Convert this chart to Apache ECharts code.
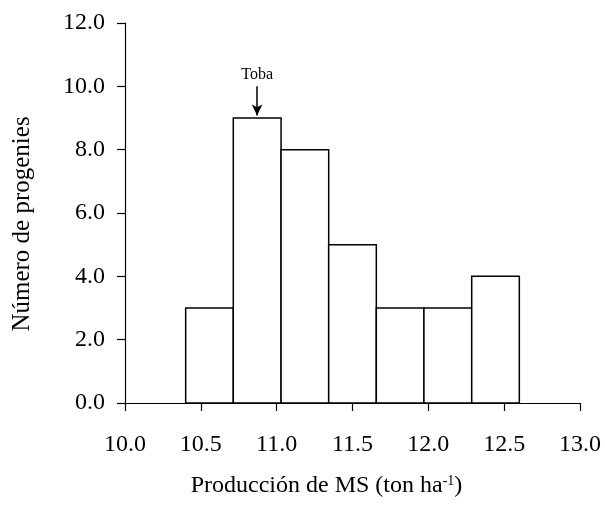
<!DOCTYPE html>
<html>
<head>
<meta charset="utf-8">
<script src="https://cdn.jsdelivr.net/npm/echarts@6/dist/echarts.min.js"></script>
<style>
  html, body { margin: 0; padding: 0; background: #fff; }
  #chart { width: 605px; height: 510px; }
</style>
</head>
<body>
<div id="chart"></div>
<script>
// bin edges (7 equal classes from 10.4 to 12.6) and counts per class
var binEdges = [10.4, 10.714, 11.029, 11.343, 11.657, 11.971, 12.286, 12.6];
var counts = [3, 9, 8, 5, 3, 3, 4];
// marked genotype
var markName = 'Toba';
var markX = 10.871;
var markFrom = 10.0;
var markTo = 9.08;

var FONT = "'Liberation Serif', 'Times New Roman', serif";

var chart = echarts.init(document.getElementById('chart'));

var histData = counts.map(function (c, i) {
  return [binEdges[i], binEdges[i + 1], c];
});

var options = {
  backgroundColor: '#fff',
  animation: false,
  textStyle: { fontFamily: FONT, color: '#000' },
  grid: { left: 125, right: 25, top: 23, bottom: 107 },
  xAxis: {
    type: 'value',
    min: 10,
    max: 13,
    interval: 0.5,
    name: 'Producción de MS (ton ha{sup|-1})',
    nameLocation: 'middle',
    nameGap: 71,
    nameTextStyle: {
      fontFamily: FONT, fontSize: 24, color: '#000',
      padding: [0, 52, 0, 0],
      rich: {
        sup: { fontFamily: FONT, fontSize: 14, color: '#000', verticalAlign: 'top', padding: [0, 0, 10, 0] }
      }
    },
    axisLine: { show: true, lineStyle: { color: '#000', width: 1.2 } },
    axisTick: { show: true, inside: false, length: 8, lineStyle: { color: '#000', width: 1.2 } },
    axisLabel: {
      margin: 30,
      fontFamily: FONT, fontSize: 24, color: '#000',
      formatter: function (v) { return v.toFixed(1); }
    },
    splitLine: { show: false }
  },
  yAxis: {
    type: 'value',
    min: 0,
    max: 12,
    interval: 2,
    name: 'Número de progenies',
    nameLocation: 'middle',
    nameGap: 90,
    nameTextStyle: { fontFamily: FONT, fontSize: 25, color: '#000', padding: [0, 22, 0, 0] },
    axisLine: { show: true, lineStyle: { color: '#000', width: 1.2 } },
    axisTick: { show: true, inside: false, length: 8, lineStyle: { color: '#000', width: 1.2 } },
    axisLabel: {
      margin: 20,
      fontFamily: FONT, fontSize: 24, color: '#000',
      formatter: function (v) { return v.toFixed(1); }
    },
    splitLine: { show: false }
  },
  series: [
    {
      type: 'custom',
      data: histData,
      encode: { x: [0, 1], y: 2 },
      renderItem: function (params, api) {
        var topLeft = api.coord([api.value(0), api.value(2)]);
        var bottomRight = api.coord([api.value(1), 0]);
        return {
          type: 'rect',
          shape: {
            x: topLeft[0],
            y: topLeft[1],
            width: bottomRight[0] - topLeft[0],
            height: bottomRight[1] - topLeft[1]
          },
          style: { fill: '#fff', stroke: '#000', lineWidth: 1.5 }
        };
      },
      markLine: {
        silent: true,
        symbol: ['none', 'arrow'],
        symbolSize: [8, 11],
        lineStyle: { color: '#000', width: 1.5, type: 'solid' },
        label: {
          show: true,
          position: 'start',
          distance: 4,
          fontFamily: FONT, fontSize: 16, color: '#000',
          formatter: markName
        },
        data: [[{ coord: [markX, markFrom] }, { coord: [markX, markTo] }]]
      }
    }
  ]
};

chart.setOption(options);
</script>
</body>
</html>
